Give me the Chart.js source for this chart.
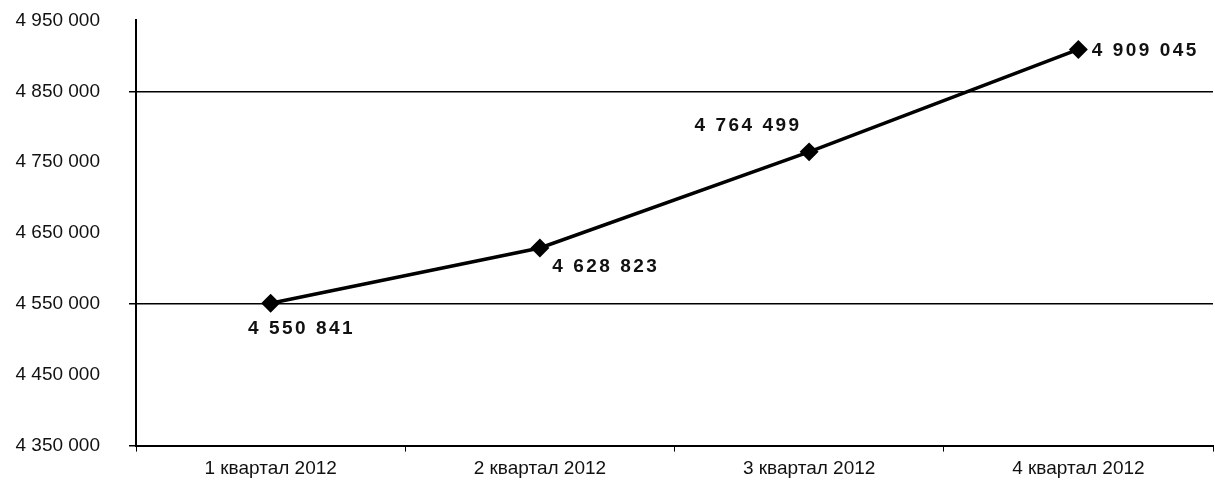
<!DOCTYPE html>
<html>
<head>
<meta charset="utf-8">
<script src="https://cdn.jsdelivr.net/npm/chart.js@4/dist/chart.umd.min.js"></script>
<style>
    html, body { margin: 0; padding: 0; background: #fff; overflow: hidden; }
    #wrap { width: 1215px; height: 506px; margin-top: -20px; }
</style>
</head>
<body>
<div id="wrap"><canvas id="lineChart"></canvas></div>
<script>
// Данные графика
const categories = ['1 квартал 2012', '2 квартал 2012', '3 квартал 2012', '4 квартал 2012'];
const values = [4550841, 4628823, 4764499, 4909045];
const gridValues = [4350000, 4550000, 4850000];
// Смещения подписей (dx, dy) от точки
const labelOffsets = [[31, 25], [66, 19], [-61, -26], [67, 1]];

function fmt(v) {
    return String(v).replace(/\B(?=(\d{3})+(?!\d))/g, ' ');
}

// Подписи значений
const valueLabels = {
    id: 'valueLabels',
    afterDatasetsDraw(chart) {
        const ctx = chart.ctx;
        const meta = chart.getDatasetMeta(0);
        ctx.save();
        ctx.font = 'bold 19px "Liberation Sans", Arial, sans-serif';
        ctx.letterSpacing = '2.5px';
        ctx.fillStyle = '#111';
        ctx.textAlign = 'center';
        ctx.textBaseline = 'middle';
        meta.data.forEach((pt, i) => {
            const off = labelOffsets[i];
            ctx.fillText(fmt(values[i]), pt.x + off[0], pt.y + off[1]);
        });
        ctx.restore();
    }
};

const chart = new Chart(document.getElementById('lineChart'), {
    type: 'line',
    data: {
        labels: categories,
        datasets: [{
            data: values,
            borderColor: '#000',
            backgroundColor: '#000',
            borderWidth: 3.5,
            pointStyle: 'rectRot',
            pointRadius: 7,
            pointBackgroundColor: '#000',
            pointBorderColor: '#000',
            tension: 0
        }]
    },
    options: {
        responsive: true,
        maintainAspectRatio: false,
        animation: false,
        layout: { autoPadding: false, padding: { top: 0, right: 2, bottom: 0, left: 0 } },
        plugins: {
            legend: { display: false },
            tooltip: { enabled: false }
        },
        scales: {
            x: {
                offset: true,
                afterFit(scale) { scale.height = 35; },
                grid: {
                    offset: true,
                    drawOnChartArea: false,
                    drawTicks: true,
                    tickLength: 6,
                    color: '#000'
                },
                border: { display: true, color: '#000', width: 2 },
                ticks: {
                    color: '#111',
                    padding: 6,
                    font: { family: '"Liberation Sans", Arial, sans-serif', size: 19 }
                }
            },
            y: {
                min: 4350000,
                max: 4950000,
                afterFit(scale) { scale.width = 136; },
                grid: {
                    color: (c) => gridValues.includes(c.tick && c.tick.value) ? '#000' : 'rgba(0,0,0,0)',
                    lineWidth: 1.5,
                    tickLength: 7
                },
                border: { display: true, color: '#000', width: 2 },
                ticks: {
                    stepSize: 100000,
                    color: '#111',
                    padding: 29,
                    font: { family: '"Liberation Sans", Arial, sans-serif', size: 19 },
                    callback: (v) => fmt(v)
                }
            }
        }
    },
    plugins: [valueLabels]
});
</script>
</body>
</html>
